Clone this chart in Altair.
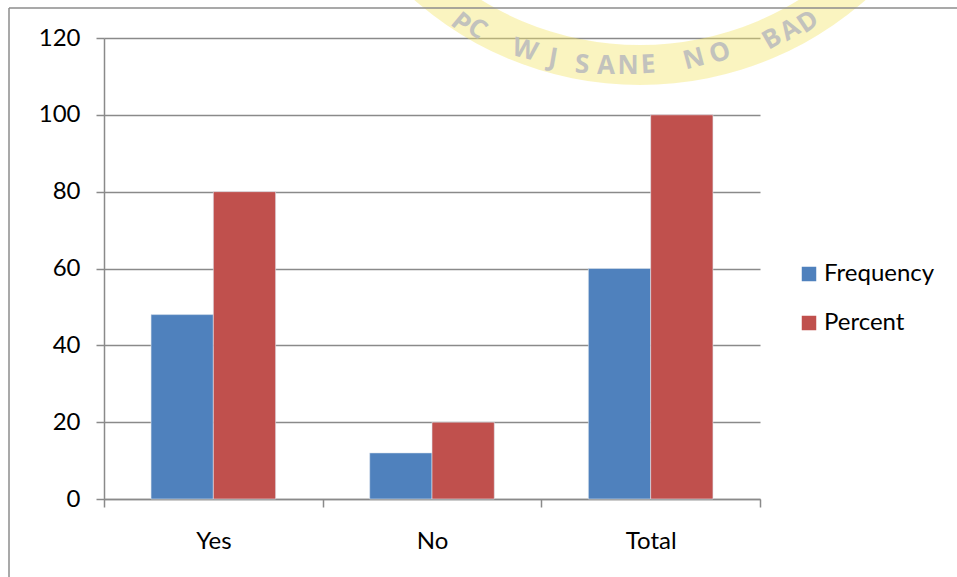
import altair as alt
import pandas as pd

# Survey responses: counts and shares
categories = ["Yes", "No", "Total"]
frequency = [48, 12, 60]
percent = [80, 20, 100]
series_names = ["Frequency", "Percent"]
series_colors = ["#4F81BD", "#C0504D"]
y_ticks = [0, 20, 40, 60, 80, 100, 120]

rows = []
for cat, f, p in zip(categories, frequency, percent):
    rows.append({"category": cat, "series": series_names[0], "value": f})
    rows.append({"category": cat, "series": series_names[1], "value": p})
df = pd.DataFrame(rows)

FONT = "Lato"
GRID = "#8a8a8a"
W, H = 656, 461
PAD = {"left": 104, "top": 38, "right": 197, "bottom": 78}

one = pd.DataFrame({"k": [0]})

# faint ribbon watermark behind the upper part of the chart
ribbon = alt.Chart(one).mark_arc(
    theta=3.1416 - 0.80, theta2=3.1416 + 0.80,
    innerRadius=302, outerRadius=342,
    color="#f2e46a", opacity=0.42,
).encode(x=alt.value(536), y=alt.value(-295))

glyphs = [
    ("P", 357, -15, 40), ("C", 373, -9, 35),
    ("W", 421, 12, 15), ("J", 449, 20, 10), ("S", 478, 27, 3),
    ("A", 502, 28, 0), ("N", 524, 28, 0), ("E", 544, 27, -3),
    ("N", 590, 21, -15), ("O", 616, 15, -20),
    ("B", 668, 1, -30), ("A", 686, -8, -32), ("D", 704, -16, -34),
]
glyph_layers = [
    alt.Chart(one).mark_text(
        text=g, font="Open Sans", fontSize=26, fontWeight="bold", angle=(a % 360),
        color="#bdbdbd", opacity=0.9, baseline="middle", align="center",
    ).encode(x=alt.value(gx), y=alt.value(gy))
    for g, gx, gy, a in glyphs
]

bars = alt.Chart(df).mark_bar(stroke="#dfe6ee", strokeWidth=0.6).encode(
    x=alt.X(
        "category:N", sort=categories, title=None,
        scale=alt.Scale(paddingInner=0, paddingOuter=0),
        axis=alt.Axis(
            tickBand="extent", grid=False, labelAngle=0,
            domainColor=GRID, domainWidth=1.5, tickColor=GRID, tickWidth=1.5,
            tickSize=8, labelFont=FONT, labelFontSize=24, labelColor="#000000",
            labelPadding=22,
        ),
    ),
    xOffset=alt.XOffset(
        "series:N", sort=series_names,
        scale=alt.Scale(paddingInner=0, paddingOuter=0.755),
    ),
    y=alt.Y(
        "value:Q", title=None,
        scale=alt.Scale(domain=[0, 120], nice=False),
        axis=alt.Axis(
            values=y_ticks, grid=True, gridColor=GRID, gridWidth=1.5,
            domainColor=GRID, domainWidth=1.5, tickColor=GRID, tickWidth=1.5,
            tickSize=8, labelFont=FONT, labelFontSize=24, labelColor="#000000",
            labelPadding=16,
        ),
    ),
    color=alt.Color(
        "series:N", sort=series_names,
        scale=alt.Scale(domain=series_names, range=series_colors),
        legend=alt.Legend(
            orient="none", legendX=693, legendY=224, title=None,
            symbolType="square", symbolSize=210, symbolStrokeWidth=0,
            labelFont=FONT, labelFontSize=24, labelColor="#000000",
            labelOffset=3, rowPadding=25,
        ),
    ),
)

# outer frame lines along the top and left edge
frame_top = alt.Chart(one).mark_rule(color="#8c8c8c", strokeWidth=1.5).encode(
    x=alt.value(-95), x2=alt.value(853), y=alt.value(-30)
)
frame_left = alt.Chart(one).mark_rule(color="#8c8c8c", strokeWidth=1.5).encode(
    x=alt.value(-95), y=alt.value(-30), y2=alt.value(539)
)

chart = alt.layer(ribbon, *glyph_layers, bars, frame_top, frame_left).properties(
    width=W, height=H, padding=PAD,
    autosize=alt.AutoSizeParams(type="none"),
).configure_view(stroke=None)

chart.save("out.html", embed_options={"renderer": "svg", "actions": False})
